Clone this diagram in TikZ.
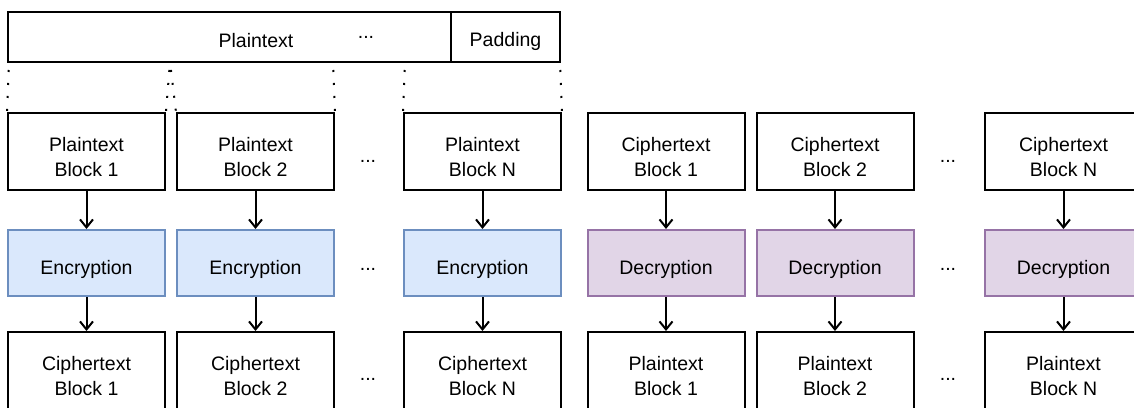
\documentclass[tikz,border=0pt]{standalone}
\usepackage{fontspec}
\setmainfont{Liberation Sans}
\usetikzlibrary{arrows.meta}
\definecolor{encfill}{HTML}{DAE8FC}
\definecolor{encdraw}{HTML}{6C8EBF}
\definecolor{decfill}{HTML}{E1D5E7}
\definecolor{decdraw}{HTML}{9673A6}
\tikzset{
  txt/.style={font=\fontsize{19.5}{25}\selectfont},
  blockbox/.style={draw, line width=2pt, minimum width=157pt, minimum height=77pt, align=center, inner sep=0pt, text height=49pt, text depth=0pt, txt},
  encbox/.style={draw=encdraw, fill=encfill, line width=2pt, minimum width=157pt, minimum height=66pt, inner sep=0pt, text height=22pt, text depth=0pt, txt},
  decbox/.style={draw=decdraw, fill=decfill, line width=2pt, minimum width=157pt, minimum height=66pt, inner sep=0pt, text height=22pt, text depth=0pt, txt},
  barbox/.style={draw, line width=2pt, minimum height=50pt, inner sep=0pt, txt},
  flow/.style={line width=2pt, -{Straight Barb[length=8pt,width=13pt,line width=2pt]}},
  dotline/.style={line width=2pt, dash pattern=on 2pt off 11pt, dash phase=5pt},
  ell/.style={txt, inner sep=0pt}
}
\begin{document}
\begin{tikzpicture}[x=1pt,y=-1pt]
\useasboundingbox (0,0) rectangle (1134,407);
% top bar
\node[barbox, minimum width=443pt] (bar) at (229.5,37) {};
\node[barbox, minimum width=109pt, text height=18pt, text depth=0pt] (pad) at (505.5,37) {Padding};
\node[txt, inner sep=0pt] (bartext) at (256,40.5) {Plaintext};
\node[ell] (bardots) at (366,37) {...};
% rows: left
\node[blockbox] (p1) at (86.5,151.5) {Plaintext\\Block 1};
\node[blockbox] (p2) at (255.5,151.5) {Plaintext\\Block 2};
\node[blockbox] (pn) at (482.5,151.5) {Plaintext\\Block N};
\node[encbox] (e1) at (86.5,263) {Encryption};
\node[encbox] (e2) at (255.5,263) {Encryption};
\node[encbox] (en) at (482.5,263) {Encryption};
\node[blockbox] (c1) at (86.5,370.5) {Ciphertext\\Block 1};
\node[blockbox] (c2) at (255.5,370.5) {Ciphertext\\Block 2};
\node[blockbox] (cn) at (482.5,370.5) {Ciphertext\\Block N};
% rows: right
\node[blockbox] (rc1) at (666,151.5) {Ciphertext\\Block 1};
\node[blockbox] (rc2) at (835,151.5) {Ciphertext\\Block 2};
\node[blockbox] (rcn) at (1063.5,151.5) {Ciphertext\\Block N};
\node[decbox] (d1) at (666,263) {Decryption};
\node[decbox] (d2) at (835,263) {Decryption};
\node[decbox] (dn) at (1063.5,263) {Decryption};
\node[blockbox] (rp1) at (666,370.5) {Plaintext\\Block 1};
\node[blockbox] (rp2) at (835,370.5) {Plaintext\\Block 2};
\node[blockbox] (rpn) at (1063.5,370.5) {Plaintext\\Block N};
% ellipses
\node[ell] (l1) at (368,161) {...};
\node[ell] (l2) at (368,269) {...};
\node[ell] (l3) at (368,379) {...};
\node[ell] (r1) at (948,161) {...};
\node[ell] (r2) at (948,269) {...};
\node[ell] (r3) at (948,379) {...};
% arrows
\foreach \a/\b in {p1/e1,p2/e2,pn/en,e1/c1,e2/c2,en/cn,rc1/d1,rc2/d2,rcn/dn,d1/rp1,d2/rp2,dn/rpn}
  \draw[flow] (\a.south) -- (\b.north);
% dotted split lines
\coordinate (s0) at (9,62);
\coordinate (s1) at (170,62);
\coordinate (s2) at (333,62);
\coordinate (s3) at (405,62);
\coordinate (s4) at (560,62);
\draw[dotline] (s0) -- (p1.north west);
\draw[dotline] (s1) -- (p1.north east);
\draw[dotline] (s1) -- (p2.north west);
\draw[dotline] (s2) -- (p2.north east);
\draw[dotline] (s3) -- (pn.north west);
\draw[dotline] (s4) -- (pn.north east);
\end{tikzpicture}
\end{document}
